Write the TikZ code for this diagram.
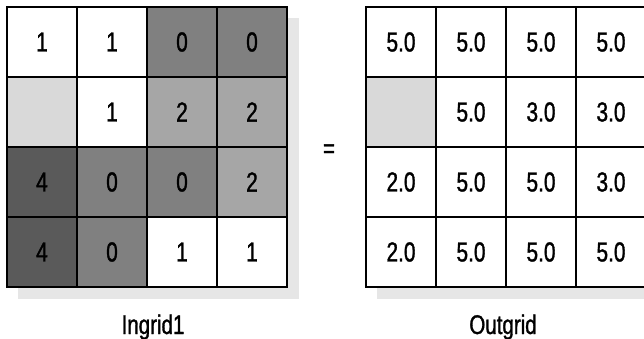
\documentclass[tikz,border=0pt]{standalone}
\usepackage{fontspec}
\setmainfont[FakeStretch=0.76, FakeBold=1.2]{Liberation Sans}
\usetikzlibrary{positioning}
\definecolor{cellLight}{RGB}{217,217,217}
\definecolor{cellMid}{RGB}{166,166,166}
\definecolor{cellDark}{RGB}{128,128,128}
\definecolor{cellDarker}{RGB}{90,90,90}
\definecolor{shadowGray}{RGB}{230,230,230}
\tikzset{
  cell/.style={draw=black, line width=1.3pt, minimum size=70pt, inner sep=0pt, font=\fontsize{27.5}{28}\selectfont},
  gridlabel/.style={anchor=base, font=\fontsize{27}{28}\selectfont},
  gridshadow/.style={fill=shadowGray}
}

\begin{document}
\begin{tikzpicture}[x=1pt, y=-1pt]
  \useasboundingbox (0,0) rectangle (644,339);
  % shadows
  \fill[gridshadow] (18,18) rectangle (299,299);
  \fill[gridshadow] (377,18) rectangle (660,299);
  % Ingrid1
  \foreach \row/\col/\val/\shade in {
      1/1/1/white, 1/2/1/white, 1/3/0/cellDark, 1/4/0/cellDark,
      2/1/{}/cellLight, 2/2/1/white, 2/3/2/cellMid, 2/4/2/cellMid,
      3/1/4/cellDarker, 3/2/0/cellDark, 3/3/0/cellDark, 3/4/2/cellMid,
      4/1/4/cellDarker, 4/2/0/cellDark, 4/3/1/white, 4/4/1/white}
    \node[cell, fill=\shade] (in-\row-\col) at ({42+70*(\col-1)},{42+70*(\row-1)}) {\val};
  % Outgrid
  \foreach \row/\col/\val/\shade in {
      1/1/5.0/white, 1/2/5.0/white, 1/3/5.0/white, 1/4/5.0/white,
      2/1/{}/cellLight, 2/2/5.0/white, 2/3/3.0/white, 2/4/3.0/white,
      3/1/2.0/white, 3/2/5.0/white, 3/3/5.0/white, 3/4/3.0/white,
      4/1/2.0/white, 4/2/5.0/white, 4/3/5.0/white, 4/4/5.0/white}
    \node[cell, fill=\shade] (out-\row-\col) at ({401+70*(\col-1)},{42+70*(\row-1)}) {\val};
  \node[font=\fontsize{27}{28}\selectfont] (eq) at (329,151) {=};
  \node[gridlabel] (inlabel) at (153,334) {Ingrid1};
  \node[gridlabel] (outlabel) at (503,334) {Outgrid};
\end{tikzpicture}
\end{document}
